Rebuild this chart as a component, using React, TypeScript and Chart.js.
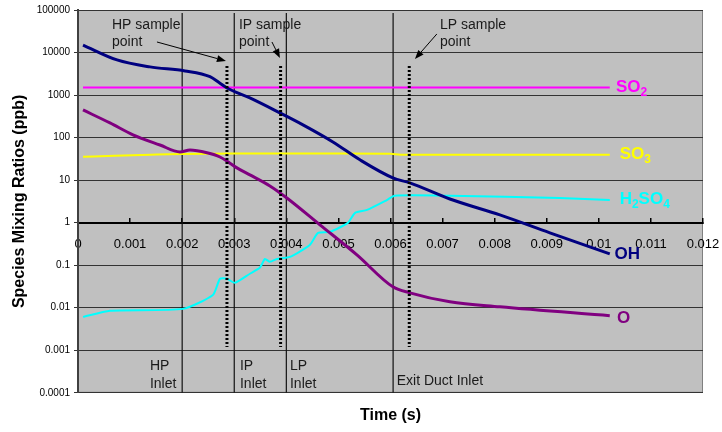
import React, { useEffect, useRef } from 'react';
import { Chart, registerables } from 'chart.js';

Chart.register(...registerables);

const FONT = '"Liberation Sans", Arial, Helvetica, sans-serif';

// ---- tick labels ----
const xTickLabels = ['0', '0.001', '0.002', '0.003', '0.004', '0.005', '0.006', '0.007', '0.008', '0.009', '0.01', '0.011', '0.012'];
const yTickLabels = ['0.0001', '0.001', '0.01', '0.1', '1', '10', '100', '1000', '10000', '100000'];

// ---- series (time in s, mixing ratio in ppb) ----
const ohTime = [0.000096, 0.000749, 0.001382, 0.002054, 0.002534, 0.002726, 0.00286, 0.0033, 0.003877, 0.004319, 0.004894, 0.005413, 0.006046, 0.006372, 0.00714, 0.0081, 0.00906, 0.01021];
const ohValues = [15000, 6700, 4600, 3700, 2700, 1900, 1470, 855, 380, 199, 79, 30, 11.3, 8.6, 3.6, 1.52, 0.575, 0.185];

const oTime = [0.000096, 0.000614, 0.001056, 0.001574, 0.001958, 0.00215, 0.002476, 0.002726, 0.002917, 0.003052, 0.0033, 0.003685, 0.00401, 0.004645, 0.005355, 0.006046, 0.006372, 0.00714, 0.0081, 0.01021];
const oValues = [447, 221, 116, 67, 46, 51, 44, 35, 25, 19.4, 13.3, 7.3, 3.8, 0.89, 0.175, 0.031, 0.0224, 0.0138, 0.0105, 0.0065];

const h2so4Time = [0.000096, 0.000614, 0.002015, 0.00259, 0.002726, 0.00286, 0.00301, 0.0033, 0.00349, 0.00359, 0.003685, 0.00382, 0.00407, 0.00445, 0.00461, 0.00484, 0.00518, 0.00532, 0.00555, 0.00593, 0.00608, 0.00714, 0.00925, 0.01021];
const h2so4Values = [0.0061, 0.0085, 0.0094, 0.02, 0.048, 0.048, 0.0385, 0.063, 0.087, 0.14, 0.12, 0.14, 0.157, 0.3, 0.575, 0.61, 0.99, 1.7, 2.0, 3.4, 4.3, 4.3, 3.8, 3.4];

const so3Time = [0.000096, 0.0007, 0.0014, 0.002, 0.003, 0.004, 0.005, 0.006, 0.0062, 0.008, 0.01021];
const so3Values = [35.5, 37.5, 39.5, 41, 42, 42, 42, 41.5, 39.5, 39.5, 39.5];

const so2Time = [0.000096, 0.01021];
const so2Values = [1500, 1500];

// ---- reference lines ----
const inletTimes = [0.002, 0.003, 0.004, 0.00605];
const inletSpan = [85000, 0.0001];
const sampleTimes = [0.00286, 0.00389, 0.00636];
const sampleSpan = [4800, 0.0012];

// ---- annotations (data coordinates) ----
const sampleLabels = [
  { lines: ['HP sample', 'point'], x: 0.000653, y: 44400 },
  { lines: ['IP sample', 'point'], x: 0.00309, y: 44400 },
  { lines: ['LP sample', 'point'], x: 0.00695, y: 44400 },
];
const inletLabels = [
  { lines: ['HP', 'Inlet'], x: 0.00138, y: 0.000416 },
  { lines: ['IP', 'Inlet'], x: 0.00311, y: 0.000416 },
  { lines: ['LP', 'Inlet'], x: 0.00407, y: 0.000416 },
  { lines: ['Exit Duct Inlet'], x: 0.00612, y: 0.000192 },
];
const arrows = [
  { x0: 0.001516, y0: 17700, x1: 0.00284, y1: 6340 },
  { x0: 0.003724, y0: 17700, x1: 0.003877, y1: 7450 },
  { x0: 0.00689, y0: 27300, x1: 0.00647, y1: 7060 },
];

const COLORS = { so2: '#FF00FF', so3: '#FFFF00', h2so4: '#00FFFF', oh: '#000080', o: '#800080' };

const seriesLabels: { parts: [string, boolean][]; color: string; x: number; y: number }[] = [
  { parts: [['SO', false], ['2', true]], color: COLORS.so2, x: 0.01033, y: 1500 },
  { parts: [['SO', false], ['3', true]], color: COLORS.so3, x: 0.0104, y: 40 },
  { parts: [['H', false], ['2', true], ['SO', false], ['4', true]], color: COLORS.h2so4, x: 0.0104, y: 3.5 },
  { parts: [['OH', false]], color: COLORS.oh, x: 0.0103, y: 0.18 },
  { parts: [['O', false]], color: COLORS.o, x: 0.01035, y: 0.0057 },
];

const pts = (xs: number[], ys: number[]) => xs.map((x, i) => ({ x, y: ys[i] }));

const decorPlugin = {
  id: 'decor',
  beforeDraw(chart: any) {
    const { ctx, chartArea: a } = chart;
    ctx.save();
    ctx.fillStyle = '#c0c0c0';
    ctx.fillRect(a.left, a.top, a.right - a.left, a.bottom - a.top);
    ctx.strokeStyle = '#808080';
    ctx.lineWidth = 1;
    ctx.strokeRect(a.left + 0.5, a.top + 0.5, a.right - a.left - 1, a.bottom - a.top - 1);
    ctx.restore();
  },
  afterDatasetsDraw(chart: any) {
    const { ctx } = chart;
    const xs = chart.scales.x;
    const ys = chart.scales.y;
    ctx.save();
    ctx.fillStyle = '#1a1a1a';
    ctx.font = `14px ${FONT}`;
    ctx.textAlign = 'left';
    ctx.textBaseline = 'middle';
    [...sampleLabels, ...inletLabels].forEach((l) => {
      const px = xs.getPixelForValue(l.x);
      const py = ys.getPixelForValue(l.y);
      l.lines.forEach((t, i) => ctx.fillText(t, px, py + i * 17.5));
    });

    ctx.strokeStyle = '#000';
    ctx.fillStyle = '#000';
    ctx.lineWidth = 1;
    arrows.forEach((ar) => {
      const x0 = xs.getPixelForValue(ar.x0);
      const y0 = ys.getPixelForValue(ar.y0);
      const x1 = xs.getPixelForValue(ar.x1);
      const y1 = ys.getPixelForValue(ar.y1);
      const ang = Math.atan2(y1 - y0, x1 - x0);
      const hl = 9;
      const hw = 3.5;
      const bx = x1 - hl * Math.cos(ang);
      const by = y1 - hl * Math.sin(ang);
      ctx.beginPath();
      ctx.moveTo(x0, y0);
      ctx.lineTo(bx, by);
      ctx.stroke();
      ctx.beginPath();
      ctx.moveTo(x1, y1);
      ctx.lineTo(bx + hw * Math.sin(ang), by - hw * Math.cos(ang));
      ctx.lineTo(bx - hw * Math.sin(ang), by + hw * Math.cos(ang));
      ctx.closePath();
      ctx.fill();
    });

    seriesLabels.forEach((s) => {
      let px = xs.getPixelForValue(s.x);
      const py = ys.getPixelForValue(s.y);
      ctx.fillStyle = s.color;
      s.parts.forEach(([t, sub]) => {
        if (sub) {
          ctx.font = `bold 12px ${FONT}`;
          ctx.fillText(t, px, py + 5);
        } else {
          ctx.font = `bold 17px ${FONT}`;
          ctx.fillText(t, px, py);
        }
        px += ctx.measureText(t).width;
      });
    });
    ctx.restore();
  },
};

export default function App() {
  const ref = useRef<HTMLCanvasElement>(null);
  useEffect(() => {
    if (!ref.current) return;
    const lineDs = (label: string, data: any[], color: string, width: number, extra: any = {}) => ({
      label,
      data,
      borderColor: color,
      backgroundColor: color,
      borderWidth: width,
      pointRadius: 0,
      fill: false,
      ...extra,
    });
    const datasets: any[] = [];
    sampleTimes.forEach((t, i) =>
      datasets.push(lineDs('sample' + i, pts([t, t], sampleSpan), '#000', 3, { borderDash: [2, 2] }))
    );
    datasets.push(lineDs('OH', pts(ohTime, ohValues), COLORS.oh, 3, { cubicInterpolationMode: 'monotone' }));
    datasets.push(lineDs('O', pts(oTime, oValues), COLORS.o, 3, { cubicInterpolationMode: 'monotone' }));
    datasets.push(lineDs('H2SO4', pts(h2so4Time, h2so4Values), COLORS.h2so4, 2, { tension: 0.2 }));
    datasets.push(lineDs('SO3', pts(so3Time, so3Values), COLORS.so3, 2, { cubicInterpolationMode: 'monotone' }));
    datasets.push(lineDs('SO2', pts(so2Time, so2Values), COLORS.so2, 2));
    inletTimes.forEach((t, i) => datasets.push(lineDs('inlet' + i, pts([t, t], inletSpan), '#111', 1.2)));

    const chart = new Chart(ref.current, {
      type: 'line',
      data: { datasets },
      plugins: [decorPlugin],
      options: {
        responsive: true,
        maintainAspectRatio: false,
        animation: false,
        layout: { padding: { top: 10, right: 19, left: 0, bottom: 0 } },
        plugins: {
          legend: { display: false },
          tooltip: { enabled: false },
          title: {
            display: true,
            text: 'Time (s)',
            position: 'bottom',
            fullSize: false,
            color: '#000',
            font: { family: FONT, size: 16, weight: 'bold' },
            padding: { top: 13, bottom: 7 },
          },
        },
        scales: {
          x: {
            type: 'linear',
            min: 0,
            max: 0.012,
            position: { y: 1 } as any,
            afterFit: (s: any) => {
              s.height = 0;
              s.paddingLeft = 0;
              s.paddingRight = 18;
            },
            afterBuildTicks: (s: any) => {
              s.ticks = xTickLabels.map((l) => ({ value: parseFloat(l) }));
            },
            ticks: {
              callback: (_v: any, i: number) => xTickLabels[i],
              font: { family: FONT, size: 13 },
              color: '#000',
              padding: 20,
              maxRotation: 0,
              autoSkip: false,
            },
            grid: { display: true, drawOnChartArea: false, drawTicks: true, tickLength: -6, color: '#000', lineWidth: 1.5 },
            border: { display: true, color: '#000', width: 2 },
          },
          y: {
            type: 'logarithmic',
            min: 0.0001,
            max: 100000,
            position: 'left',
            afterFit: (s: any) => {
              s.width = 78;
            },
            afterBuildTicks: (s: any) => {
              s.ticks = yTickLabels.map((l) => ({ value: parseFloat(l) }));
            },
            ticks: {
              callback: (_v: any, i: number) => yTickLabels[i],
              font: { family: FONT, size: 10 },
              color: '#000',
              padding: 4,
              autoSkip: false,
            },
            grid: { color: '#333', lineWidth: 1, tickLength: 4 },
            border: { display: true, color: '#404040', width: 2 },
            title: {
              display: true,
              text: 'Species Mixing Ratios (ppb)',
              color: '#000',
              font: { family: FONT, size: 16, weight: 'bold' },
              padding: { top: 10, bottom: 0 },
            },
          },
        },
      },
    });
    return () => chart.destroy();
  }, []);
  return (
    <div style={{ position: 'absolute', left: 0, top: 0, width: 722, height: 432 }}>
      <canvas ref={ref} />
    </div>
  );
}
